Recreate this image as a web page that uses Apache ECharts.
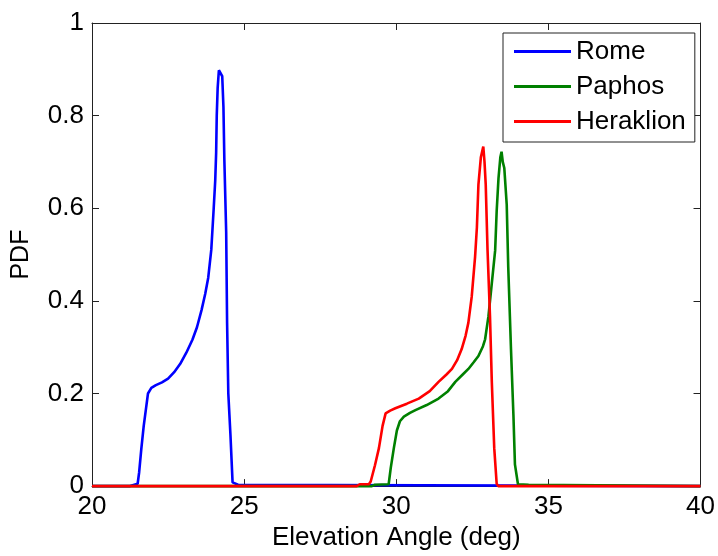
<!DOCTYPE html>
<html>
<head>
<meta charset="utf-8">
<title>Elevation Angle PDF</title>
<script src="https://cdn.jsdelivr.net/npm/echarts@6/dist/echarts.min.js"></script>
<style>
  html, body { margin: 0; padding: 0; background: #fff; }
  #chart { width: 718px; height: 556px; }
</style>
</head>
<body>
<div id="chart"></div>
<script>
// Elevation angle (deg) and probability density per site, as [angle, pdf] pairs.
var seriesNames = ['Rome', 'Paphos', 'Heraklion'];
var seriesColors = ['#0000ff', '#008000', '#ff0000'];

var rome = [
  [20, 0], [21.25, 0], [21.3, 0.003], [21.5, 0.005], [21.55, 0.03], [21.62, 0.08],
  [21.7, 0.13], [21.78, 0.17], [21.84, 0.2], [21.95, 0.212], [22.1, 0.218],
  [22.3, 0.224], [22.5, 0.232], [22.7, 0.246], [22.9, 0.264], [23.1, 0.288],
  [23.3, 0.316], [23.45, 0.343], [23.6, 0.38], [23.72, 0.415], [23.82, 0.45],
  [23.92, 0.51], [24.0, 0.6], [24.05, 0.66], [24.08, 0.72], [24.1, 0.8],
  [24.13, 0.86], [24.17, 0.898], [24.22, 0.895], [24.28, 0.885], [24.32, 0.818],
  [24.35, 0.704], [24.41, 0.548], [24.44, 0.352], [24.48, 0.2], [24.55, 0.111],
  [24.62, 0.008], [24.8, 0.003], [24.85, 0], [40, 0]
];

var paphos = [
  [20, 0], [29.2, 0], [29.3, 0.003], [29.75, 0.004], [29.82, 0.04], [29.92, 0.082],
  [30.02, 0.12], [30.12, 0.14], [30.25, 0.15], [30.45, 0.158], [30.63, 0.164],
  [31.0, 0.175], [31.39, 0.189], [31.7, 0.205], [31.94, 0.225], [32.2, 0.242],
  [32.37, 0.253], [32.55, 0.268], [32.7, 0.281], [32.85, 0.302], [32.92, 0.317],
  [33.03, 0.367], [33.14, 0.438], [33.25, 0.509], [33.3, 0.594], [33.36, 0.665],
  [33.42, 0.71], [33.46, 0.722], [33.5, 0.70], [33.55, 0.687], [33.63, 0.608],
  [33.68, 0.473], [33.77, 0.296], [33.85, 0.154], [33.9, 0.047], [34.0, 0.004],
  [34.35, 0.003], [34.4, 0], [40, 0]
];

var heraklion = [
  [20, 0], [28.7, 0], [28.8, 0.004], [29.1, 0.004], [29.16, 0.01], [29.3, 0.045],
  [29.43, 0.082], [29.55, 0.13], [29.65, 0.157], [29.8, 0.163], [29.97, 0.168],
  [30.35, 0.178], [30.74, 0.189], [31.1, 0.205], [31.39, 0.225], [31.65, 0.241],
  [31.83, 0.253], [32.0, 0.272], [32.15, 0.296], [32.28, 0.325], [32.37, 0.353],
  [32.48, 0.409], [32.59, 0.495], [32.65, 0.559], [32.7, 0.651], [32.78, 0.71],
  [32.86, 0.733], [32.9, 0.70], [32.94, 0.651], [33.0, 0.509], [33.08, 0.367],
  [33.14, 0.225], [33.22, 0.082], [33.3, 0.005], [33.35, 0], [40, 0]
];

var xRange = { min: 20, max: 40, step: 5 };
var yRange = { min: 0, max: 1, step: 0.2 };
var xTitle = 'Elevation Angle (deg)';
var yTitle = 'PDF';

var FONT = '"Liberation Sans", Arial, Helvetica, sans-serif';
var AXIS_COLOR = '#222';

// A value axis drawn as a plain frame edge with inward ticks; extra keys override.
function frameAxis(base, extra) {
  var o = {
    type: 'value',
    min: base.min, max: base.max, interval: base.step,
    axisLine: { show: true, onZero: false, lineStyle: { color: AXIS_COLOR, width: 1 } },
    axisTick: { show: true, inside: true, length: 7, lineStyle: { color: AXIS_COLOR, width: 1 } },
    splitLine: { show: false },
    axisLabel: { show: false }
  };
  for (var k in extra) o[k] = extra[k];
  return o;
}

var labelStyle = { show: true, color: '#000', fontSize: 26, fontFamily: FONT,
                   showMinLabel: true, showMaxLabel: true };

var chart = echarts.init(document.getElementById('chart'), null, { renderer: 'canvas' });

var dataSets = [rome, paphos, heraklion];

chart.setOption({
  backgroundColor: '#fff',
  animation: false,
  grid: { left: 92, right: 15, top: 23, bottom: 64, containLabel: false },
  xAxis: [
    frameAxis(xRange, {
      position: 'bottom',
      axisLabel: Object.assign({ margin: 8 }, labelStyle),
      name: xTitle, nameLocation: 'middle', nameGap: 38,
      nameTextStyle: { color: '#000', fontSize: 26, fontFamily: FONT }
    }),
    frameAxis(xRange, { position: 'top' })
  ],
  yAxis: [
    frameAxis(yRange, {
      position: 'left',
      axisLabel: Object.assign({ margin: 8 }, labelStyle),
      name: yTitle, nameLocation: 'middle', nameGap: 58, nameRotate: 90,
      nameTextStyle: { color: '#000', fontSize: 25, fontFamily: FONT }
    }),
    frameAxis(yRange, { position: 'right' })
  ],
  legend: {
    data: seriesNames,
    orient: 'vertical',
    left: 503, top: 33,
    padding: [1, 9, 3, 11],
    itemGap: 0,
    itemWidth: 57,
    itemHeight: 3,
    icon: 'rect',
    backgroundColor: '#fff',
    borderColor: '#222',
    borderWidth: 1,
    borderRadius: 0,
    textStyle: { color: '#000', fontSize: 26, fontFamily: FONT, lineHeight: 35 }
  },
  series: seriesNames.map(function (name, i) {
    return {
      name: name,
      type: 'line',
      xAxisIndex: 0,
      yAxisIndex: 0,
      data: dataSets[i],
      showSymbol: false,
      symbol: 'none',
      clip: false,
      color: seriesColors[i],
      lineStyle: { color: seriesColors[i], width: 2.6 },
      itemStyle: { color: seriesColors[i] },
      z: 2 + i
    };
  })
});
</script>
</body>
</html>
